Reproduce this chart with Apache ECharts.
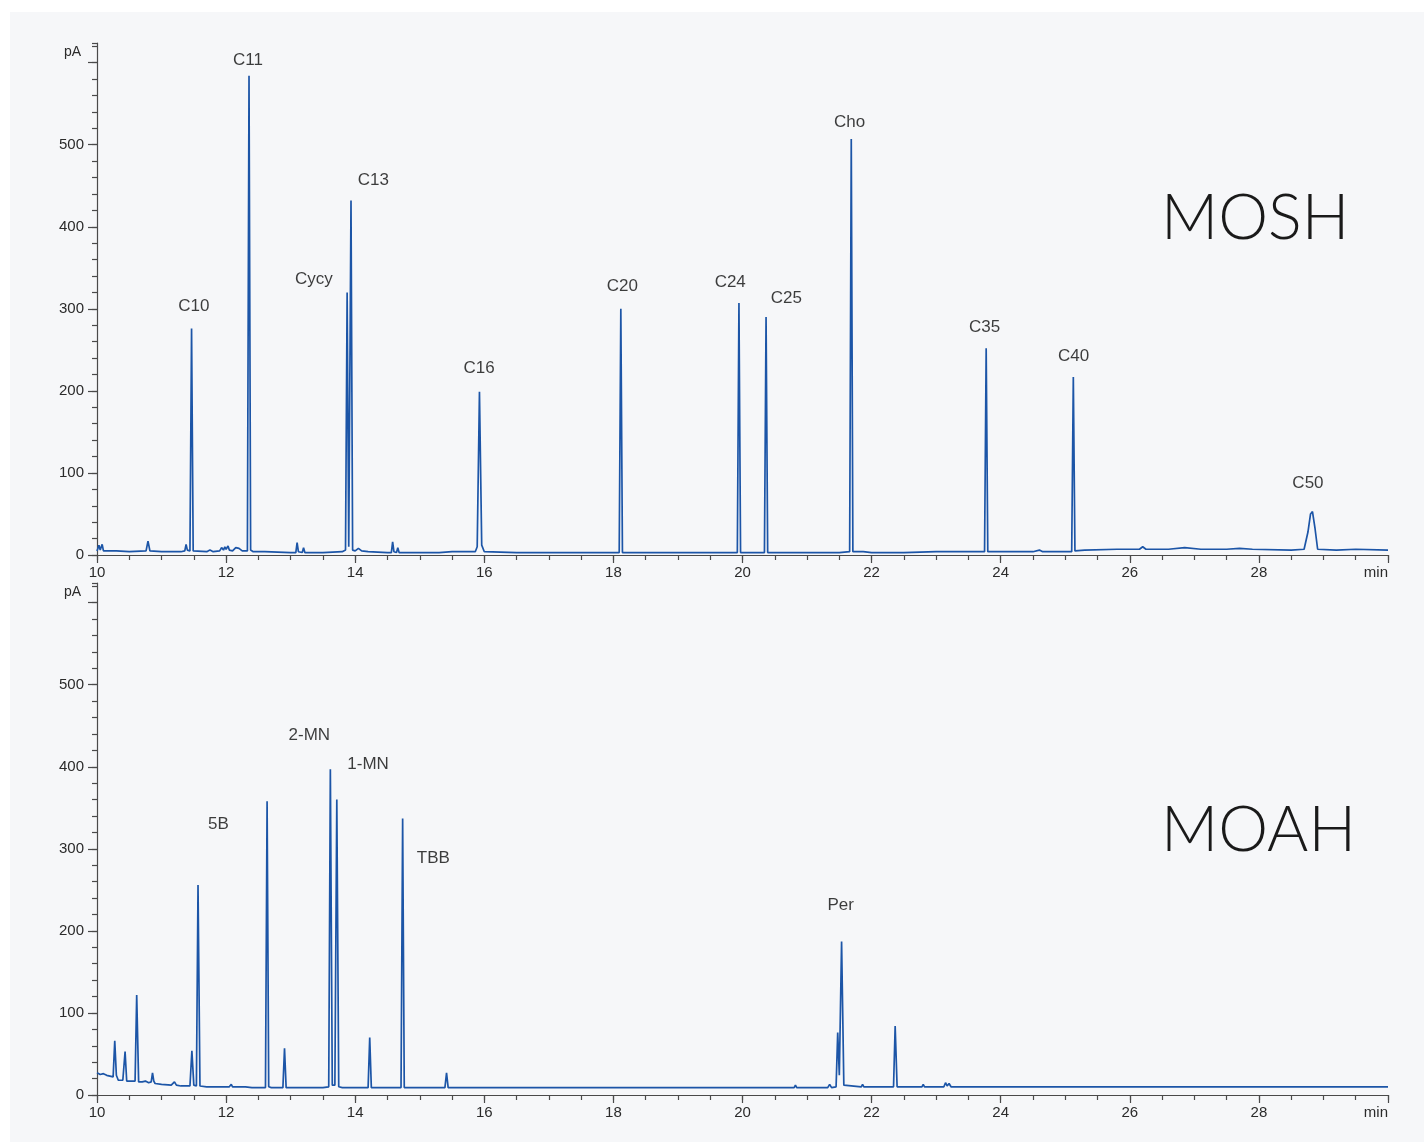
<!DOCTYPE html>
<html>
<head>
<meta charset="utf-8">
<title>MOSH / MOAH chromatograms</title>
<script src="https://cdn.jsdelivr.net/npm/echarts@6/dist/echarts.min.js"></script>
<style>
  html, body { margin: 0; padding: 0; background: #ffffff; }
  #panel { position: absolute; left: 10px; top: 12px; right: 0; bottom: 0; background: #f6f7f9; }
  #chart { position: absolute; left: 0; top: 0; width: 1424px; height: 1142px; }
</style>
</head>
<body>
<div id="panel"></div>
<div id="chart"></div>
<script>
// Retention time (min) / detector signal (pA) for the saturated fraction
const moshTrace = [
  [10.00, 5], [10.03, 12], [10.05, 6], [10.08, 13], [10.10, 5], [10.30, 5], [10.50, 4],
  [10.76, 5], [10.79, 17], [10.82, 5], [11.00, 4], [11.30, 4], [11.36, 5], [11.38, 13],
  [11.40, 6], [11.44, 5], [11.465, 276], [11.49, 5], [11.52, 4], [11.70, 4], [11.75, 6],
  [11.80, 4], [11.90, 5], [11.93, 9], [11.96, 6], [11.98, 10], [12.00, 7], [12.03, 11],
  [12.05, 6], [12.10, 5], [12.15, 9], [12.20, 8], [12.25, 5], [12.33, 5], [12.355, 584],
  [12.38, 6], [12.42, 4], [12.60, 4], [13.00, 3], [13.08, 3], [13.10, 15], [13.12, 4],
  [13.18, 3], [13.20, 9], [13.22, 3], [13.50, 3], [13.80, 4], [13.85, 6], [13.875, 320],
  [13.90, 10], [13.91, 10], [13.935, 432], [13.96, 6], [14.00, 5], [14.05, 8], [14.10, 5],
  [14.20, 4], [14.50, 3], [14.56, 3], [14.58, 16], [14.60, 4], [14.64, 3], [14.66, 9],
  [14.68, 3], [15.00, 3], [15.30, 3], [15.50, 4], [15.86, 4], [15.89, 10], [15.925, 199],
  [15.96, 12], [16.00, 4], [16.50, 3], [17.00, 3], [17.50, 3], [18.00, 3], [18.09, 3],
  [18.115, 300], [18.14, 3], [18.50, 3], [19.00, 3], [19.50, 3], [19.92, 3], [19.945, 307],
  [19.97, 3], [20.34, 3], [20.365, 290], [20.39, 3], [20.60, 3], [20.73, 3], [20.75, 5],
  [20.77, 3], [21.00, 3], [21.50, 3], [21.66, 4], [21.685, 507], [21.71, 4], [21.83, 4],
  [21.85, 6], [21.87, 4], [22.00, 3], [22.50, 3], [23.00, 4], [23.50, 4], [23.75, 4],
  [23.775, 252], [23.80, 4], [24.00, 4], [24.50, 4], [24.60, 6], [24.65, 4], [25.00, 4],
  [25.10, 4], [25.125, 217], [25.15, 5], [25.30, 6], [25.80, 7], [26.15, 7], [26.20, 10],
  [26.25, 7], [26.60, 7], [26.85, 9], [27.10, 7], [27.50, 7], [27.70, 8], [27.90, 7],
  [28.50, 6], [28.70, 7], [28.76, 28], [28.80, 50], [28.83, 53], [28.87, 32], [28.91, 7],
  [29.20, 6], [29.50, 7], [30.00, 6]
];

// Retention time (min) / detector signal (pA) for the aromatic fraction
const moahTrace = [
  [10.00, 27], [10.05, 25], [10.10, 26], [10.15, 24], [10.20, 23], [10.25, 22],
  [10.275, 66], [10.30, 24], [10.33, 18], [10.40, 18], [10.435, 53], [10.46, 17],
  [10.50, 17], [10.59, 17], [10.615, 122], [10.645, 16], [10.70, 16], [10.75, 17],
  [10.80, 15], [10.84, 16], [10.86, 27], [10.88, 17], [10.90, 14], [11.00, 13],
  [11.15, 12], [11.20, 16], [11.23, 12], [11.30, 11], [11.44, 11], [11.47, 54],
  [11.50, 12], [11.54, 11], [11.565, 256], [11.595, 11], [11.70, 10], [11.80, 10],
  [12.05, 10], [12.08, 13], [12.10, 10], [12.30, 10], [12.32, 11], [12.40, 9],
  [12.61, 9], [12.635, 358], [12.66, 10], [12.70, 9], [12.88, 9], [12.905, 57],
  [12.93, 9], [13.05, 9], [13.07, 11], [13.10, 9], [13.13, 11], [13.15, 9], [13.50, 9],
  [13.59, 10], [13.615, 397], [13.645, 12], [13.685, 12], [13.715, 360], [13.745, 10],
  [13.80, 9], [14.20, 9], [14.225, 70], [14.25, 9], [14.71, 9], [14.735, 337],
  [14.76, 9], [14.90, 9], [15.18, 9], [15.20, 11], [15.22, 9], [15.39, 9], [15.415, 27],
  [15.44, 9], [15.60, 9], [16.00, 9], [16.45, 9], [16.47, 11], [16.49, 9], [17.00, 9],
  [17.40, 9], [17.42, 10], [17.44, 9], [18.10, 9], [18.12, 11], [18.14, 9], [18.90, 9],
  [18.92, 10], [18.94, 9], [19.60, 9], [19.62, 11], [19.64, 9], [20.20, 9], [20.22, 11],
  [20.24, 9], [20.80, 9], [20.82, 12], [20.84, 9], [21.32, 9], [21.35, 13], [21.38, 9],
  [21.45, 10], [21.475, 76], [21.50, 24], [21.535, 187], [21.57, 12], [21.60, 10],
  [21.84, 10], [21.86, 13], [21.88, 10], [22.15, 10], [22.17, 12], [22.19, 10],
  [22.34, 10], [22.365, 84], [22.395, 10], [22.78, 10], [22.80, 13], [22.82, 10],
  [23.12, 10], [23.145, 15], [23.17, 11], [23.20, 14], [23.23, 10], [23.60, 10],
  [23.62, 12], [23.64, 10], [24.00, 10], [24.02, 12], [24.04, 10], [24.33, 10],
  [24.35, 12], [24.37, 10], [24.65, 10], [24.67, 12], [24.69, 10], [25.00, 10],
  [25.02, 12], [25.04, 10], [25.32, 10], [25.34, 12], [25.36, 10], [25.60, 10],
  [25.62, 11], [25.64, 10], [26.00, 10], [26.02, 11], [26.04, 10], [27.00, 10],
  [28.00, 10], [29.00, 10], [30.00, 10]
];

// Peak names and where each name sits (min, pA)
const moshPeakNames = ['C10', 'C11', 'Cycy', 'C13', 'C16', 'C20', 'C24', 'C25', 'Cho', 'C35', 'C40', 'C50'];
const moshNameSpots = [
  [11.50, 303], [12.34, 603], [13.36, 336], [14.28, 457], [15.92, 228], [18.14, 327],
  [19.81, 332], [20.68, 313], [21.66, 527], [23.75, 278], [25.13, 242], [28.76, 87]
];
const moahPeakNames = ['5B', '2-MN', '1-MN', 'TBB', 'Per'];
const moahNameSpots = [[11.88, 330], [13.29, 438], [14.20, 403], [15.21, 288], [21.52, 231]];

// Axis ranges and ticks
const timeRange = [10, 30];
const timeTicks = [10, 12, 14, 16, 18, 20, 22, 24, 26, 28, 30];
const signalRange = [0, 624];
const signalTicks = [0, 100, 200, 300, 400, 500, 600];
const signalLabels = [0, 100, 200, 300, 400, 500];

const LINE = '#1c55a7';
const AXIS = '#4a4a4a';
const TEXT = '#2b2b2b';
const SANS = '"Liberation Sans", Arial, Helvetica, sans-serif';

const grids = [
  { left: 97, top: 43, width: 1291, height: 512 },
  { left: 97, top: 583, width: 1291, height: 512 }
];

function xAxesFor(gridIndex) {
  return [
    { // fine ticks every half minute
      type: 'value', gridIndex, position: 'bottom', min: timeRange[0], max: timeRange[1], interval: 0.5,
      axisLine: { show: true, onZero: false, lineStyle: { color: AXIS, width: 1.2 } },
      axisTick: { show: true, length: 5, lineStyle: { color: AXIS, width: 1.2 } },
      axisLabel: { show: false }, splitLine: { show: false }
    },
    { // labelled ticks every two minutes
      type: 'value', gridIndex, position: 'bottom', min: timeRange[0], max: timeRange[1], interval: 2,
      axisLine: { show: false, onZero: false },
      axisTick: { show: true, length: 8, customValues: timeTicks, lineStyle: { color: AXIS, width: 1.2 } },
      axisLabel: {
        show: true, margin: 10, customValues: timeTicks, color: TEXT, fontSize: 15, fontFamily: SANS,
        formatter: v => (v === timeRange[1] ? 'min' : String(v)), alignMaxLabel: 'right'
      },
      splitLine: { show: false }
    }
  ];
}

function yAxesFor(gridIndex) {
  return [
    { // fine ticks every 20 pA
      type: 'value', gridIndex, position: 'left', min: signalRange[0], max: signalRange[1], interval: 20,
      axisLine: { show: true, onZero: false, lineStyle: { color: AXIS, width: 1.2 } },
      axisTick: { show: true, length: 5, lineStyle: { color: AXIS, width: 1.2 } },
      axisLabel: { show: false }, splitLine: { show: false }
    },
    { // labelled ticks every 100 pA
      type: 'value', gridIndex, position: 'left', min: signalRange[0], max: signalRange[1], interval: 100,
      axisLine: { show: false, onZero: false },
      axisTick: { show: true, length: 9, customValues: signalTicks, lineStyle: { color: AXIS, width: 1.2 } },
      axisLabel: {
        show: true, margin: 13, customValues: signalLabels, color: TEXT, fontSize: 15, fontFamily: SANS,
        formatter: v => (signalLabels.indexOf(v) >= 0 ? String(v) : '')
      },
      splitLine: { show: false }
    }
  ];
}

function traceSeries(data, axisIndex) {
  return {
    type: 'line', xAxisIndex: axisIndex, yAxisIndex: axisIndex, data,
    showSymbol: false, symbol: 'none', smooth: false, sampling: null,
    lineStyle: { color: LINE, width: 1.7 }, z: 3, silent: true
  };
}

function nameSeries(names, spots, axisIndex) {
  return {
    type: 'scatter', xAxisIndex: axisIndex, yAxisIndex: axisIndex,
    data: names.map((n, i) => ({ name: n, value: spots[i] })),
    symbolSize: 1, itemStyle: { color: 'rgba(0,0,0,0)' }, silent: true, z: 4,
    label: {
      show: true, position: 'inside', formatter: p => p.name,
      color: '#0d0d0d', fontSize: 17, fontFamily: SANS
    }
  };
}

const chart = echarts.init(document.getElementById('chart'), null, { renderer: 'canvas' });
chart.setOption({
  animation: false,
  backgroundColor: 'transparent',
  grid: grids,
  xAxis: [...xAxesFor(0), ...xAxesFor(1)],
  yAxis: [...yAxesFor(0), ...yAxesFor(1)],
  series: [
    traceSeries(moshTrace, 0),
    traceSeries(moahTrace, 2),
    nameSeries(moshPeakNames, moshNameSpots, 0),
    nameSeries(moahPeakNames, moahNameSpots, 2)
  ],
  graphic: [
    { type: 'text', left: 64, top: 45, style: { text: 'pA', fill: TEXT, font: '14px ' + SANS } },
    { type: 'text', left: 64, top: 585, style: { text: 'pA', fill: TEXT, font: '14px ' + SANS } },
    { type: 'text', left: 1161, top: 187, style: { text: 'MOSH', fill: '#1a1a1a', font: '300 63px Lato, sans-serif' } },
    { type: 'text', left: 1161, top: 799, style: { text: 'MOAH', fill: '#1a1a1a', font: '300 63px Lato, sans-serif' } }
  ]
});
</script>
</body>
</html>
